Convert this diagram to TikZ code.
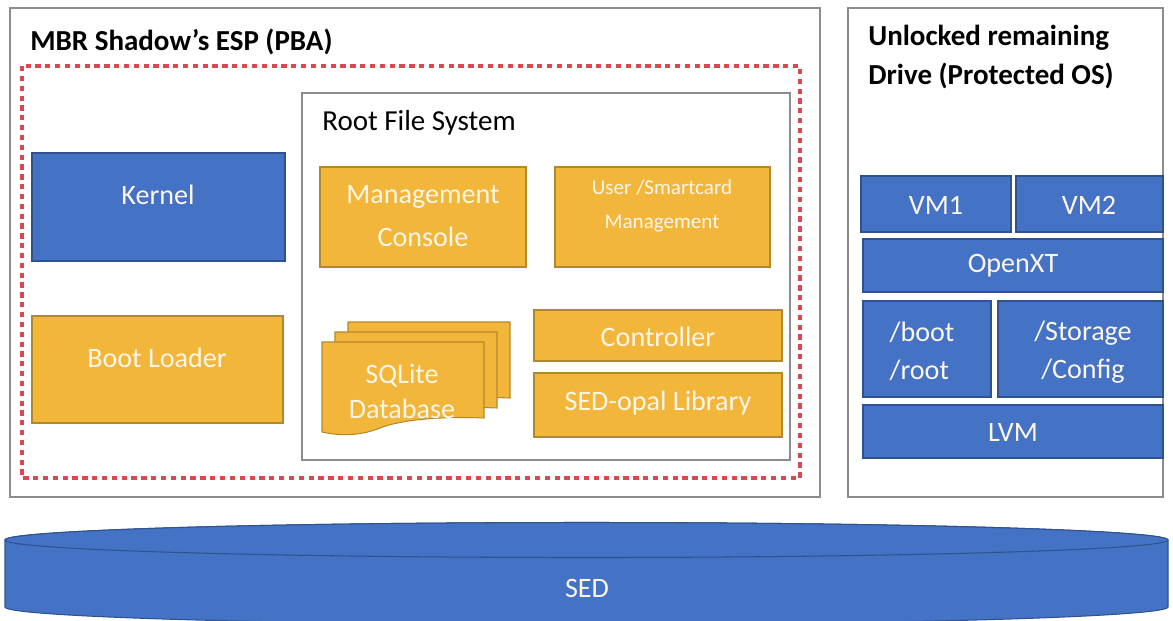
\documentclass[tikz,border=0pt]{standalone}
\usepackage{fontspec}
\setmainfont{Carlito}
\definecolor{boxblue}{HTML}{4472C4}
\definecolor{edgeblue}{HTML}{2F528F}
\definecolor{boxgold}{HTML}{F2B63A}
\definecolor{edgegold}{HTML}{B08A2A}
\definecolor{framegray}{HTML}{8C8C8C}
\definecolor{pbared}{HTML}{D9474F}
\definecolor{paletext}{HTML}{FDF6E8}
\tikzset{
  outerframe/.style={draw=framegray,line width=0.7pt},
  bluebox/.style={fill=boxblue,draw=edgeblue,line width=0.6pt},
  goldbox/.style={fill=boxgold,draw=edgegold,line width=0.6pt},
  boxtext/.style={text=paletext,font=\fontsize{16}{21.5}\selectfont,align=center},
  smalltext/.style={text=paletext,font=\fontsize{12}{19}\selectfont,align=center},
  boxtitle/.style={font=\bfseries\fontsize{16.5}{22}\selectfont,anchor=west,align=left,inner sep=0pt},
}
\begin{document}
\begin{tikzpicture}[x=0.02cm,y=-0.02cm]
      \useasboundingbox (0,0) rectangle (1173,620);
      % shadow MBR partition
      \draw[outerframe] (10,8) rectangle (820,497);
      \node[boxtitle] (pbatitle) at (30,42) {MBR Shadow's ESP (PBA)};
      \draw[pbared,line width=2pt,dash pattern=on 3pt off 2.6pt] (22,66) rectangle (800,478);
      \draw[bluebox] (32,153) rectangle (285,261); \node[boxtext] (kernel) at (158,195) {Kernel};
      \draw[goldbox] (32,316) rectangle (283,423); \node[boxtext] (bootloader) at (157,358) {Boot Loader};
      % root file system
      \draw[outerframe] (302,93) rectangle (790,460);
      \node[boxtitle,font=\fontsize{16.5}{22}\selectfont] (rfstitle) at (322,123) {Root File System};
      \draw[goldbox] (320,167) rectangle (526,267); \node[boxtext,font=\fontsize{16}{24}\selectfont] (console) at (423,216) {Management\\Console};
      \draw[goldbox] (555,167) rectangle (770,267); \node[smalltext] (smartcard) at (662,206) {User /Smartcard\\Management};
      \draw[goldbox] (534,310) rectangle (782,361); \node[boxtext] (controller) at (658,337) {Controller};
      \draw[goldbox] (534,373) rectangle (782,437); \node[boxtext] (sedopal) at (658,403) {SED-opal Library};
      % stacked database pages
      \foreach \dx/\dy in {26/-20,13/-10,0/0}
        \draw[goldbox] (322+\dx,342+\dy) -- (484+\dx,342+\dy) -- (484+\dx,418+\dy)
          .. controls (440+\dx,416+\dy) and (400+\dx,420+\dy) .. (380+\dx,428+\dy)
          .. controls (360+\dx,436+\dy) and (340+\dx,436+\dy) .. (322+\dx,432+\dy) -- cycle;
      \node[boxtext,font=\fontsize{16}{20}\selectfont] (sqlite) at (402,391) {SQLite\\Database};
      % protected drive
      \draw[outerframe] (848,8) rectangle (1163,497);
      \node[boxtitle] (drivetitle) at (868,57) {Unlocked remaining\\Drive (Protected OS)};
      \draw[bluebox] (861,176) rectangle (1011,232); \node[boxtext] (vmone) at (936,205) {VM1};
      \draw[bluebox] (1016,176) rectangle (1163,232); \node[boxtext] (vmtwo) at (1089,205) {VM2};
      \draw[bluebox] (863,239) rectangle (1163,292); \node[boxtext] (openxt) at (1013,266) {OpenXT};
      \draw[bluebox] (863,301) rectangle (991,397); \node[boxtext,align=left] (bootroot) at (922,351) {/boot\\/root};
      \draw[bluebox] (998,301) rectangle (1163,397); \node[boxtext] (storage) at (1083,352) {/Storage\\/Config};
      \draw[bluebox] (863,405) rectangle (1163,458); \node[boxtext] (lvm) at (1013,432) {LVM};
      % self encrypting drive
      \draw[bluebox] (5,540) -- (5,607) arc[start angle=180,end angle=0,x radius=581.5,y radius=17.5]
        -- (1168,540) arc[start angle=0,end angle=-180,x radius=581.5,y radius=17.5] -- cycle;
      \draw[bluebox] (586.5,540) ellipse[x radius=581.5,y radius=17.5];
      \node[boxtext] (sed) at (587,588) {SED};
\end{tikzpicture}
\end{document}
